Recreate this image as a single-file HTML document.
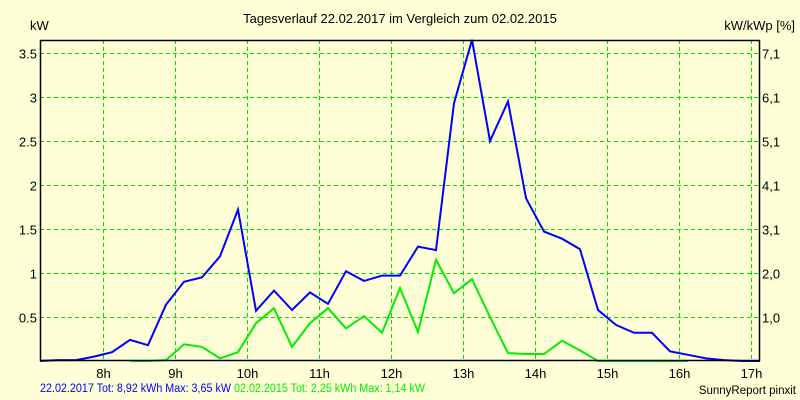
<!DOCTYPE html>
<html><head><meta charset="utf-8"><style>
body{margin:0;background:#FFFFD7;}
svg{display:block;font-family:"Liberation Sans",Arial,sans-serif;}
</style></head><body>
<svg id="c" width="800" height="400" xmlns="http://www.w3.org/2000/svg">
<rect width="800" height="400" fill="#FFFFD7"/>
<text x="400" y="23" text-anchor="middle" font-size="13" fill="#000">Tagesverlauf 22.02.2017 im Vergleich zum 02.02.2015</text>
<text x="30" y="30" font-size="13" fill="#000">kW</text>
<text x="795" y="30" text-anchor="end" font-size="13" fill="#000">kW/kWp [%]</text>
<g id="grid" shape-rendering="crispEdges"></g><g id="series"></g><g id="axes"></g>
<text x="40" y="392" font-size="11.5" fill="#0000FF" textLength="191" lengthAdjust="spacingAndGlyphs">22.02.2017 Tot: 8,92 kWh Max: 3,65 kW</text>
<text x="234" y="392" font-size="11.5" fill="#00EE00" textLength="191" lengthAdjust="spacingAndGlyphs">02.02.2015 Tot: 2,25 kWh Max: 1,14 kW</text>
<text x="796" y="394" text-anchor="end" font-size="11.5" fill="#000">SunnyReport pinxit</text>
</svg>
<script>
const hourTicks=[8,9,10,11,12,13,14,15,16,17];
const yTicks=[0.5,1,1.5,2,2.5,3,3.5];
const yTicksRight=["1,0","2,0","3,1","4,1","5,1","6,1","7,1"];
const startHour=7.125, stepHour=0.25;
const blue=[0,0.01,0.01,0.05,0.1,0.24,0.18,0.64,0.9,0.95,1.19,1.72,0.57,0.8,0.58,0.78,0.65,1.02,0.91,0.97,0.97,1.3,1.26,2.93,3.65,2.5,2.95,1.85,1.47,1.39,1.27,0.58,0.41,0.32,0.32,0.11,0.07,0.03,0.01,0,0];
const greenStart=5;
const green=[0,0,0.01,0.19,0.16,0.03,0.1,0.43,0.6,0.16,0.43,0.6,0.37,0.51,0.32,0.83,0.33,1.15,0.77,0.93,0.5,0.09,0.08,0.08,0.23,0.12,0,0,0,0,0,0];
const L=40,R=759,T=40,B=360;
const xs=h=>40+(h-startHour)*72;
const ys=v=>361-v*88;
const NS="http://www.w3.org/2000/svg";
function mk(t,a,p){const e=document.createElementNS(NS,t);for(const k in a)e.setAttribute(k,a[k]);p.appendChild(e);return e;}
const g=document.getElementById('grid'),s=document.getElementById('series'),ax=document.getElementById('axes');
hourTicks.forEach(h=>{const x=Math.round(xs(h))+0.5;
const l=mk('line',{x1:x,x2:x,y1:T,y2:B,stroke:'#00E000','stroke-width':1,'stroke-dasharray':'4,3'},g);


const t=mk('text',{x:x,y:378,'text-anchor':'middle','font-size':13},ax);t.textContent=h+'h';

});
yTicks.forEach((v,i)=>{const y=Math.round(ys(v))+0.5;
const l=mk('line',{x1:L,x2:R,y1:y,y2:y,stroke:'#00E000','stroke-width':1,'stroke-dasharray':'4,3'},g);


const t=mk('text',{x:37,y:y+5,'text-anchor':'end','font-size':13},ax);t.textContent=String(v);


const t2=mk('text',{x:762,y:y+5,'font-size':13},ax);t2.textContent=yTicksRight[i];

});
function line(vals,off,col,name){const pts=vals.map((v,i)=>xs(startHour+(i+off)*stepHour).toFixed(1)+','+ys(v).toFixed(1)).join(' ');
const p=mk('polyline',{points:pts,fill:'none',stroke:col,'stroke-width':2,'stroke-linejoin':'miter'},s);

}
line(green,greenStart,'#00EE00','series-2015');
line(blue,0,'#0000FF','series-2017');
const fr=mk('rect',{x:L+0.5,y:T+0.5,width:R-L,height:B-T,fill:'none',stroke:'#000','stroke-width':1.5},ax);


</script>
</body></html>
